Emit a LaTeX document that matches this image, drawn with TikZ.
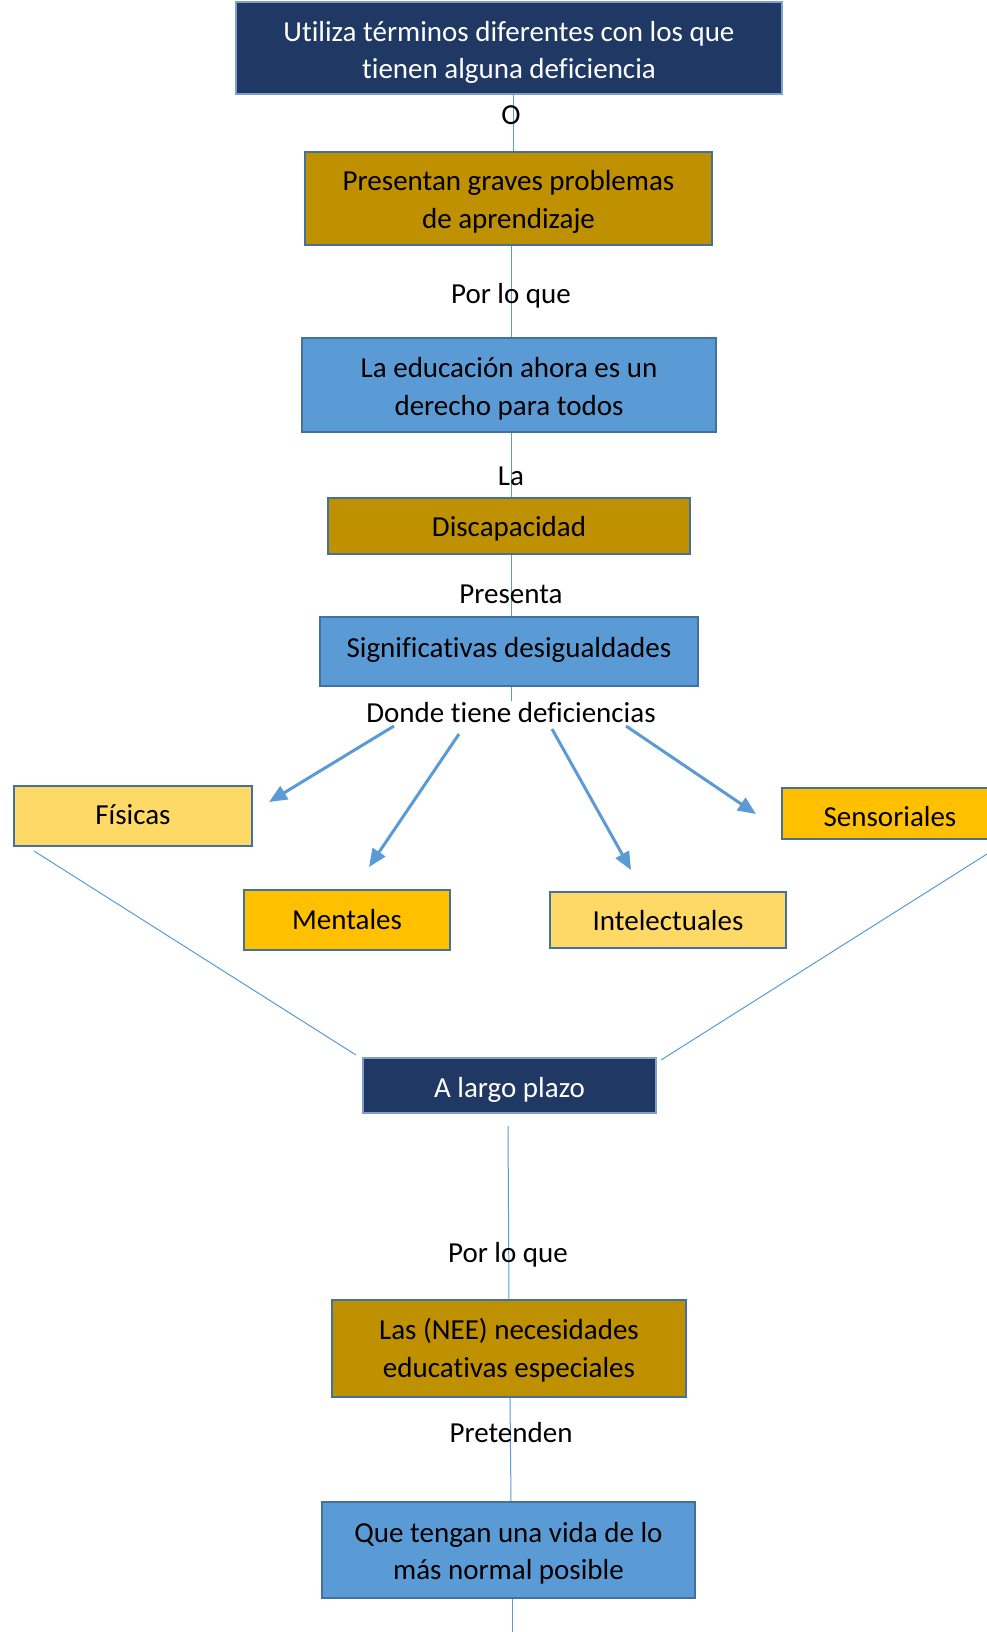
\documentclass[tikz,border=0pt]{standalone}
\usepackage{fontspec}
\setmainfont[Ligatures=NoCommon]{Carlito}
\usetikzlibrary{arrows.meta}
\definecolor{navy}{HTML}{203864}
\definecolor{gold}{HTML}{BF9000}
\definecolor{skyb}{HTML}{5B9BD5}
\definecolor{lyel}{HTML}{FFD966}
\definecolor{oyel}{HTML}{FFC000}
\definecolor{bord}{HTML}{41719C}
\definecolor{nbord}{HTML}{7F9FCF}
\begin{document}
\begin{tikzpicture}[x=1pt,y=-1pt,
  every node/.style={font=\fontsize{29}{37.5}\selectfont, inner sep=0pt},
  bl/.style={text height={18pt+(#1)}, text depth={18pt-(#1)}},
  bltwo/.style={text height={40pt+(#1)}, text depth={40pt-(#1)}},
  box/.style={draw=bord, line width=2pt, align=center},
  navybox/.style={box, draw=nbord, fill=navy, text=white},
  goldbox/.style={box, fill=gold},
  bluebox/.style={box, fill=skyb},
  lybox/.style={box, fill=lyel},
  oybox/.style={box, fill=oyel},
  conn/.style={draw=skyb, line width=1pt},
  arr/.style={draw=skyb, line width=3pt, -{Triangle[length=18pt,width=15pt]}},
  lbl/.style={anchor=base, text=black}
]
\useasboundingbox (0,0) rectangle (987,1632);
\fill[white] (0,0) rectangle (987,1632);

% connectors first (behind text)
\coordinate (c1a) at (513,94);
\coordinate (c1b) at (513,152);
\draw[conn] (c1a) -- (c1b);
\coordinate (c2a) at (511,245);
\coordinate (c2b) at (511,338);
\draw[conn] (c2a) -- (c2b);
\coordinate (c3a) at (511,432);
\coordinate (c3b) at (511,498);
\draw[conn] (c3a) -- (c3b);
\coordinate (c4a) at (511,554);
\coordinate (c4b) at (511,617);
\draw[conn] (c4a) -- (c4b);
\coordinate (c5a) at (511,686);
\coordinate (c5b) at (511,701);
\draw[conn] (c5a) -- (c5b);
\coordinate (c6a) at (508,1126);
\coordinate (c6b) at (509,1300);
\draw[conn] (c6a) -- (c6b);
\coordinate (c7a) at (510,1398);
\coordinate (c7b) at (511,1502);
\draw[conn] (c7a) -- (c7b);
\coordinate (c8a) at (512,1598);
\coordinate (c8b) at (512,1632);
\draw[conn] (c8a) -- (c8b);

% boxes
\node[navybox, bltwo=31, minimum width=546, minimum height=92] (b1) at (509,48)
  {Utiliza términos diferentes con los que\\tienen alguna deficiencia};
\node[goldbox, bltwo=30, minimum width=407, minimum height=93] (b2) at (508.5,198.5)
  {Presentan graves problemas\\de aprendizaje};
\node[bluebox, bltwo=30, minimum width=414, minimum height=94] (b3) at (509,385)
  {La educación ahora es un\\derecho para todos};
\node[goldbox, bl=10.5, minimum width=362, minimum height=56] (b4) at (509,526)
  {Discapacidad};
\node[bluebox, bl=6.2, minimum width=378, minimum height=69] (b5) at (509,651.5)
  {Significativas desigualdades};
\node[lybox, bl=8, minimum width=238, minimum height=60] (fis) at (133,816)
  {Físicas};
\node[oybox, bl=9.5, minimum width=206, minimum height=60] (men) at (347,920)
  {Mentales};
\node[lybox, bl=10.5, minimum width=236, minimum height=56] (int) at (668,920)
  {Intelectuales};
\node[oybox, bl=12.5, minimum width=216, minimum height=51] (sen) at (890,813.5)
  {Sensoriales};
\node[navybox, bl=11.5, minimum width=293, minimum height=55] (alp) at (509.5,1085.5)
  {A largo plazo};
\node[goldbox, bltwo=28.5, minimum width=354, minimum height=97] (nee) at (509,1348.5)
  {Las (NEE) necesidades\\educativas especiales};
\node[bluebox, bltwo=29.5, minimum width=373, minimum height=96] (fin) at (508.5,1550)
  {Que tengan una vida de lo\\más normal posible};

% labels
\node[lbl] (lO) at (511,125) {O};
\node[lbl] (lP1) at (511,303.3) {Por lo que};
\node[lbl] (lLa) at (511,485) {La};
\node[lbl] (lPr) at (511,603.3) {Presenta};
\node[lbl] (lDo) at (511,722.5) {Donde tiene deficiencias};
\node[lbl] (lP2) at (508,1262) {Por lo que};
\node[lbl] (lPt) at (511,1442.7) {Pretenden};

% arrows
\coordinate (a1s) at (394,726); \coordinate (a1e) at (269,802);
\coordinate (a2s) at (459,734); \coordinate (a2e) at (369,867);
\coordinate (a3s) at (552,729); \coordinate (a3e) at (631,870);
\coordinate (a4s) at (626,726); \coordinate (a4e) at (756,814);
\draw[arr] (a1s) -- (a1e);
\draw[arr] (a2s) -- (a2e);
\draw[arr] (a3s) -- (a3e);
\draw[arr] (a4s) -- (a4e);

% lines to A largo plazo
\coordinate (lfS) at (34,851); \coordinate (lfE) at (356,1055);
\coordinate (lsS) at (987,854); \coordinate (lsE) at (661,1060);
\draw[conn] (lfS) -- (lfE);
\draw[conn] (lsS) -- (lsE);
\end{tikzpicture}
\end{document}
